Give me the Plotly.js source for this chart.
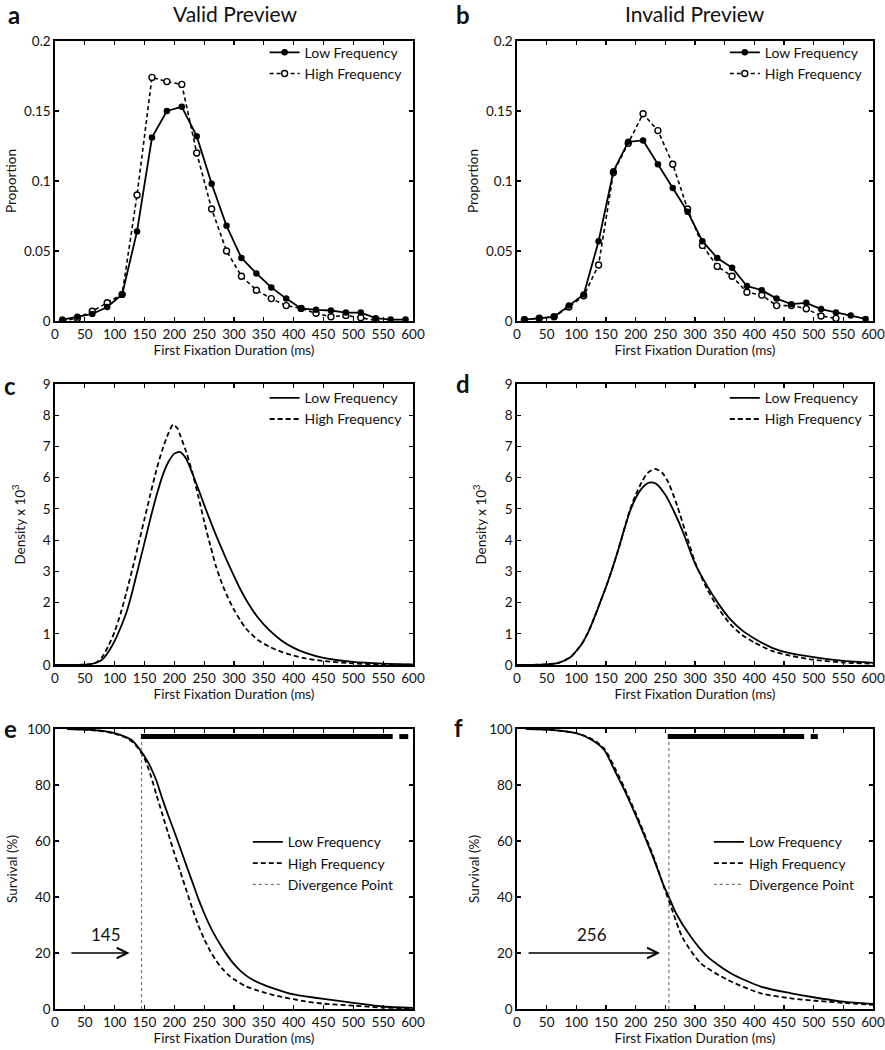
<!DOCTYPE html>
<html>
<head>
<meta charset="utf-8">
<script src="https://cdn.plot.ly/plotly-3.0.1.min.js"></script>
<style>html,body{margin:0;padding:0;background:#fff;}#chart{width:885px;height:1050px;}</style>
</head>
<body>
<div id="chart"></div>
<script>
// ---------- DATA ----------
const binCenters = [12.5,37.5,62.5,87.5,112.5,137.5,162.5,187.5,212.5,237.5,262.5,287.5,312.5,337.5,362.5,387.5,412.5,437.5,462.5,487.5,512.5,537.5,562.5,587.5];
const binCentersHigh = [12.5,37.5,62.5,87.5,112.5,137.5,162.5,187.5,212.5,237.5,262.5,287.5,312.5,337.5,362.5,387.5,412.5,437.5,462.5,487.5,512.5,537.5];

// Panel a (valid preview) proportions
const aLow  = [0.001,0.003,0.005,0.010,0.019,0.064,0.131,0.150,0.153,0.132,0.098,0.068,0.045,0.034,0.024,0.016,0.009,0.008,0.0075,0.006,0.006,0.002,0.001,0.001];
const aHigh = [0.000,0.002,0.007,0.013,0.019,0.090,0.174,0.171,0.169,0.120,0.080,0.050,0.032,0.022,0.016,0.011,0.009,0.0055,0.003,0.004,0.0024,0.0005];
// Panel b (invalid preview) proportions
const bLow  = [0.001,0.002,0.003,0.011,0.019,0.057,0.107,0.128,0.129,0.112,0.095,0.078,0.057,0.045,0.038,0.025,0.022,0.016,0.012,0.013,0.0085,0.006,0.004,0.0015];
const bHigh = [0.001,0.002,0.003,0.010,0.018,0.040,0.106,0.127,0.148,0.136,0.112,0.080,0.054,0.039,0.032,0.0205,0.0185,0.011,0.011,0.0088,0.0036,0.0019];

// Panel c density (x10^3)
const cLowX  = [0,50,60,70,80,90,100,110,120,130,140,150,160,170,180,190,200,210,220,230,240,250,260,270,280,290,300,310,320,340,360,380,400,420,450,500,550,600];
const cLowY  = [0,0.01,0.03,0.08,0.19,0.43,0.77,1.2,1.7,2.38,3.15,3.92,4.7,5.42,6.05,6.5,6.77,6.82,6.6,6.15,5.65,5.13,4.63,4.15,3.7,3.26,2.85,2.45,2.1,1.52,1.1,0.78,0.55,0.39,0.23,0.1,0.045,0.02];
const cHighX = [0,50,60,70,80,90,100,110,120,130,140,150,160,170,180,190,198,205,210,220,230,240,250,260,270,280,290,300,310,320,340,360,380,400,420,450,500,550,600];
const cHighY = [0,0.01,0.03,0.09,0.28,0.63,1.07,1.65,2.35,3.1,3.88,4.68,5.48,6.25,6.9,7.42,7.7,7.58,7.35,6.82,6.18,5.42,4.6,3.85,3.15,2.6,2.15,1.77,1.45,1.17,0.8,0.58,0.42,0.3,0.21,0.13,0.05,0.02,0.01];

// Panel d density (x10^3)
const dLowX  = [0,50,70,90,100,110,120,130,140,150,160,170,180,190,200,210,220,227,235,250,265,280,300,320,340,360,380,400,430,460,500,550,600];
const dLowY  = [0,0.02,0.07,0.25,0.45,0.7,1.05,1.5,2.0,2.5,3.05,3.65,4.3,4.9,5.35,5.65,5.82,5.85,5.8,5.45,4.9,4.25,3.25,2.55,1.95,1.45,1.1,0.85,0.55,0.38,0.25,0.13,0.07];
const dHighX = [0,50,70,90,100,110,120,130,140,150,160,170,180,190,200,210,220,233,245,255,270,285,300,320,340,360,380,400,430,460,500,550,600];
const dHighY = [0,0.02,0.07,0.25,0.45,0.7,1.05,1.5,2.0,2.5,3.05,3.65,4.3,4.95,5.45,5.85,6.15,6.28,6.15,5.85,5.1,4.2,3.3,2.45,1.8,1.3,0.95,0.72,0.45,0.3,0.17,0.08,0.04];

// Panel e survival (%)
const eLowX  = [20,50,80,100,120,130,140,150,160,170,180,190,200,210,220,230,240,250,260,270,280,290,300,310,320,330,340,350,360,380,400,420,450,500,550,600];
const eLowY  = [100,99.8,99.3,98.5,97,95.8,93.3,90.3,86.5,81.5,75,69,63.3,57.4,51.4,45.5,39.5,34.2,29.5,25.5,22,18.8,16,13.8,12,10.6,9.5,8.6,7.8,6.4,5.2,4.5,3.6,2.2,0.9,0.4];
const eHighX = [20,50,80,100,120,130,140,150,160,170,180,190,200,210,220,230,240,250,260,270,280,290,300,320,340,360,380,400,420,450,500,550,600];
const eHighY = [100,99.8,99.2,98.3,96.8,95.3,93,89.5,83.7,76.5,69.5,62.5,55.6,49.1,42.5,36,30,25,20.8,17.3,14.5,12.3,10.6,8.1,6.6,5.3,4.3,3.5,2.7,1.9,1.2,0.5,0.3];
const eDiverge = 145;
const eSigStart = [144,577];
const eSigEnd   = [566,592];

// Panel f survival (%)
const fLowX  = [15,50,100,127,147,165,181,206,229,248,256,268,293,321,361,411,462,500,550,600];
const fLowY  = [100,99.8,98.5,96,92.5,85,78.2,66.3,54.4,43.7,40,34.2,25.8,18.7,12.7,8.0,5.6,4.2,2.6,1.8];
const fHighX = [15,50,100,127,147,165,181,206,229,248,260,279,310,355,411,462,500,550,600];
const fHighY = [100,99.8,98.5,96.3,93,86,79,67,55,43.3,36.3,25.5,16.3,10.4,5.6,3.8,3,2.2,1.5];
const fDiverge = 256;
const fSigStart = [254,495];
const fSigEnd   = [484,507];

const sigLevel = 97.3;
const arrowY = 20;

// ---------- STYLE ----------
const FONT = 'Lato, "Open Sans", sans-serif';
const lowName = 'Low Frequency', highName = 'High Frequency', divName = 'Divergence Point';

const traces = [];
function propTraces(xa, ya, lg, low, high) {
  traces.push({x: binCentersHigh, y: high, xaxis: xa, yaxis: ya, legend: lg, name: highName, mode: 'lines+markers',
    line: {color: '#000', width: 1.6, dash: '4px,3px'}, marker: {symbol: 'circle', size: 6, color: '#fff', line: {color: '#000', width: 1.4}}});
  traces.push({x: binCenters, y: low, xaxis: xa, yaxis: ya, legend: lg, name: lowName, mode: 'lines+markers',
    line: {color: '#000', width: 1.8}, marker: {symbol: 'circle', size: 6.5, color: '#000'}});
}
function densTraces(xa, ya, lg, lx, ly, hx, hy) {
  traces.push({x: lx, y: ly, xaxis: xa, yaxis: ya, legend: lg, name: lowName, mode: 'lines', line: {color: '#000', width: 1.8, shape: 'spline', smoothing: 0.7}});
  traces.push({x: hx, y: hy, xaxis: xa, yaxis: ya, legend: lg, name: highName, mode: 'lines', line: {color: '#000', width: 1.8, dash: '5px,3px', shape: 'spline', smoothing: 0.7}});
}
function survTraces(xa, ya, lg, lx, ly, hx, hy, div, s0, s1) {
  traces.push({x: lx, y: ly, xaxis: xa, yaxis: ya, legend: lg, name: lowName, mode: 'lines', line: {color: '#000', width: 1.8, shape: 'spline', smoothing: 0.7}});
  traces.push({x: hx, y: hy, xaxis: xa, yaxis: ya, legend: lg, name: highName, mode: 'lines', line: {color: '#000', width: 1.8, dash: '5px,3px', shape: 'spline', smoothing: 0.7}});
  traces.push({x: [div, div], y: [0, sigLevel], xaxis: xa, yaxis: ya, legend: lg, name: divName, mode: 'lines', line: {color: '#777', width: 1.2, dash: 'dot'}});
  for (let i = 0; i < s0.length; i++) {
    traces.push({x: [s0[i], s1[i]], y: [sigLevel, sigLevel], xaxis: xa, yaxis: ya, showlegend: false, mode: 'lines', line: {color: '#000', width: 5}});
  }
}
propTraces('x', 'y', 'legend', aLow, aHigh);
propTraces('x2', 'y2', 'legend2', bLow, bHigh);
densTraces('x3', 'y3', 'legend3', cLowX, cLowY, cHighX, cHighY);
densTraces('x4', 'y4', 'legend4', dLowX, dLowY, dHighX, dHighY);
survTraces('x5', 'y5', 'legend5', eLowX, eLowY, eHighX, eHighY, eDiverge, eSigStart, eSigEnd);
survTraces('x6', 'y6', 'legend6', fLowX, fLowY, fHighX, fHighY, fDiverge, fSigStart, fSigEnd);

const W = 885, H = 1050;
const colL = [55/W, 413/W], colR = [517/W, 873/W];
const row1 = [1 - 321/H, 1 - 41/H], row2 = [1 - 665/H, 1 - 384/H], row3 = [1 - 1009/H, 1 - 729/H];

function xax(domain, anchor) {
  return {domain: domain, anchor: anchor, range: [0, 600], tickvals: [0,50,100,150,200,250,300,350,400,450,500,550,600],
    ticks: 'inside', ticklen: 4, tickwidth: 1.2, tickcolor: '#000', showline: true, linecolor: '#000', linewidth: 1.6, mirror: 'ticks',
    showgrid: false, zeroline: false, tickfont: {size: 13.5, color: '#111', family: FONT},
    title: {text: 'First Fixation Duration (ms)', font: {size: 13.5, color: '#111', family: FONT}, standoff: 2}};
}
function yax(domain, anchor, range, dtick, title, standoff) {
  return {domain: domain, anchor: anchor, range: range, dtick: dtick, tick0: 0,
    ticks: 'inside', ticklen: 4, tickwidth: 1.2, tickcolor: '#000', showline: true, linecolor: '#000', linewidth: 1.6, mirror: 'ticks',
    showgrid: false, zeroline: false, tickfont: {size: 13.5, color: '#111', family: FONT},
    title: {text: title, font: {size: 13.5, color: '#111', family: FONT}, standoff: standoff}};
}
function leg(x, y) {
  return {x: x, y: y, xanchor: 'left', yanchor: 'top', bgcolor: 'rgba(0,0,0,0)', borderwidth: 0,
    font: {size: 14, color: '#111', family: FONT}, itemwidth: 30, tracegroupgap: 0, traceorder: 'normal', itemclick: false};
}
const legA = leg(0.299, 0.965); legA.traceorder = 'reversed';
const legB = leg(0.819, 0.965); legB.traceorder = 'reversed';

function ann(text, px, py, size) {
  return {text: text, x: px/W, y: 1 - py/H, xref: 'paper', yref: 'paper', xanchor: 'center', yanchor: 'middle', showarrow: false, font: {size: size, family: FONT, color: '#111'}};
}
const annotations = [
  ann('Valid Preview', 235, 13, 21),
  ann('Invalid Preview', 695, 13, 21),
  ann('<b>a</b>', 14, 15, 24),
  ann('<b>b</b>', 463, 15, 24),
  ann('<b>c</b>', 10, 385, 24),
  ann('<b>d</b>', 463, 383, 24),
  ann('<b>e</b>', 10, 728, 24),
  ann('<b>f</b>', 458, 727, 24),
  // arrows for divergence points
  {x: eDiverge - 20, y: arrowY, ax: 25, ay: arrowY, xref: 'x5', yref: 'y5', axref: 'x5', ayref: 'y5', text: '', showarrow: true, arrowhead: 5, arrowsize: 1.3, arrowwidth: 1.6, arrowcolor: '#000'},
  {x: 86, y: 26.5, xref: 'x5', yref: 'y5', text: String(eDiverge), showarrow: false, font: {size: 17, family: FONT, color: '#111'}},
  {x: fDiverge - 15, y: arrowY, ax: 17, ay: arrowY, xref: 'x6', yref: 'y6', axref: 'x6', ayref: 'y6', text: '', showarrow: true, arrowhead: 5, arrowsize: 1.3, arrowwidth: 1.6, arrowcolor: '#000'},
  {x: 126, y: 26.5, xref: 'x6', yref: 'y6', text: String(fDiverge), showarrow: false, font: {size: 17, family: FONT, color: '#111'}}
];

const layout = {
  width: W, height: H, margin: {l: 0, r: 0, t: 0, b: 0}, paper_bgcolor: '#fff', plot_bgcolor: '#fff',
  font: {family: FONT, color: '#111'},
  xaxis: xax(colL, 'y'), yaxis: yax(row1, 'x', [0, 0.2], 0.05, 'Proportion', 4),
  xaxis2: xax(colR, 'y2'), yaxis2: yax(row1, 'x2', [0, 0.2], 0.05, 'Proportion', 4),
  xaxis3: xax(colL, 'y3'), yaxis3: yax(row2, 'x3', [0, 9], 1, 'Density x 10<sup>3</sup>', 14),
  xaxis4: xax(colR, 'y4'), yaxis4: yax(row2, 'x4', [0, 9], 1, 'Density x 10<sup>3</sup>', 15),
  xaxis5: xax(colL, 'y5'), yaxis5: yax(row3, 'x5', [0, 100], 20, 'Survival (%)', 6),
  xaxis6: xax(colR, 'y6'), yaxis6: yax(row3, 'x6', [0, 100], 20, 'Survival (%)', 6),
  legend: legA, legend2: legB,
  legend3: leg(0.299, 0.636), legend4: leg(0.819, 0.636),
  legend5: leg(0.280, 0.213), legend6: leg(0.801, 0.213),
  annotations: annotations, showlegend: true
};

Plotly.newPlot('chart', traces, layout, {staticPlot: true, displayModeBar: false});
</script>
</body>
</html>
